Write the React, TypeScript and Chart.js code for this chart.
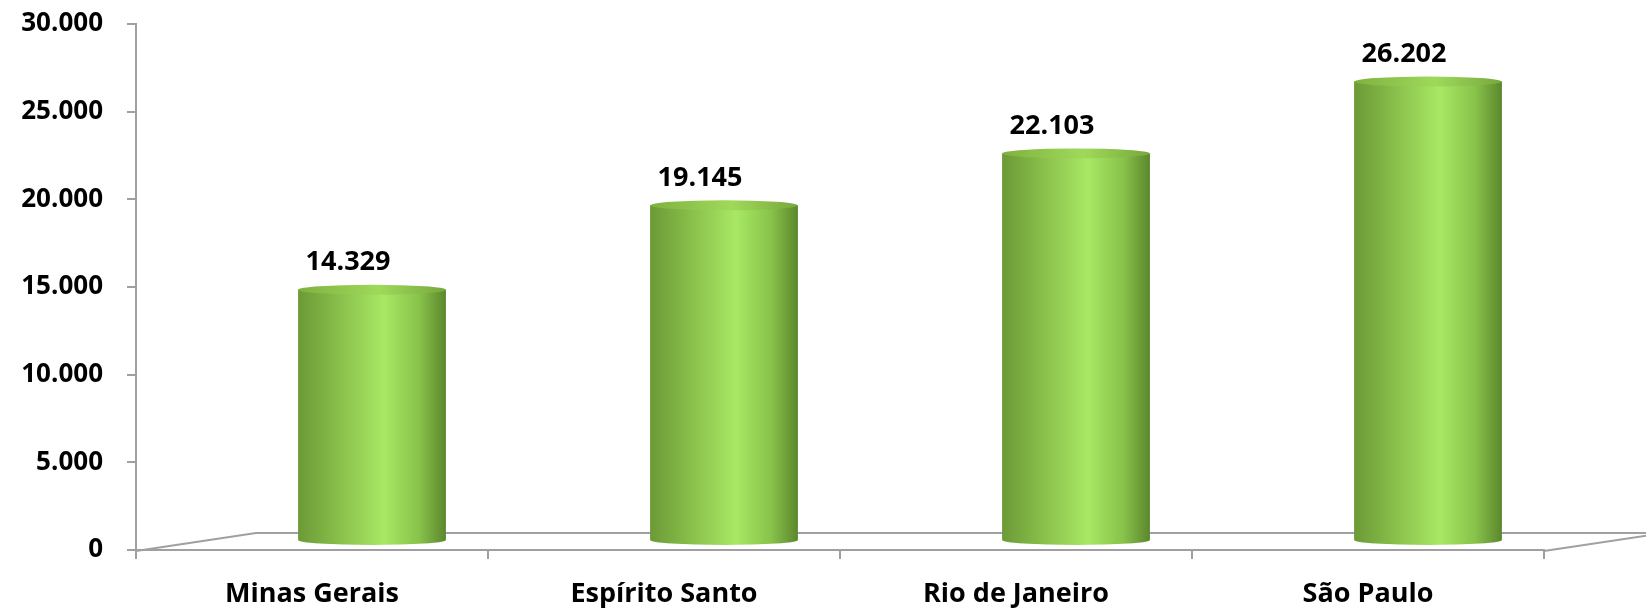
import React, { useEffect, useRef } from "react";
import { Chart, registerables } from "chart.js";

Chart.register(...registerables);

const categories = ["Minas Gerais", "Espírito Santo", "Rio de Janeiro", "São Paulo"];
const values = [14329, 19145, 22103, 26202];
const yTicks = [0, 5000, 10000, 15000, 20000, 25000, 30000];

const fmt = (v: number) => String(Math.round(v)).replace(/\B(?=(\d{3})+(?!\d))/g, ".");

const DEPTH_X = 120;
const DEPTH_Y = -18;
const FONT = "'Open Sans', Lato, sans-serif";

function cylGradient(ctx: CanvasRenderingContext2D, x0: number, x1: number) {
  const g = ctx.createLinearGradient(x0, 0, x1, 0);
  g.addColorStop(0, "#6c9a37");
  g.addColorStop(0.25, "#86bb48");
  g.addColorStop(0.58, "#a8e864");
  g.addColorStop(0.82, "#88c24a");
  g.addColorStop(1, "#5a872d");
  return g;
}

const cylinderPlugin = {
  id: "cylinder",
  beforeDatasetsDraw(chart: any) {
    const { ctx, scales } = chart;
    const xs = scales.x;
    const y0 = scales.y.getPixelForValue(0);
    const left = xs.left;
    const right = xs.right;
    ctx.save();
    ctx.strokeStyle = "#a0a0a0";
    ctx.lineWidth = 2;
    ctx.beginPath();
    ctx.moveTo(left, y0 + 1);
    ctx.lineTo(left + DEPTH_X, y0 + 1 + DEPTH_Y);
    ctx.lineTo(right + DEPTH_X + 40, y0 + 1 + DEPTH_Y);
    ctx.moveTo(right, y0 + 1);
    ctx.lineTo(right + DEPTH_X, y0 + 1 + DEPTH_Y);
    ctx.stroke();
    ctx.restore();
  },
  afterDatasetsDraw(chart: any) {
    const { ctx } = chart;
    const meta = chart.getDatasetMeta(0);
    const dx = DEPTH_X / 2;
    const dy = DEPTH_Y / 2;
    ctx.save();
    meta.data.forEach((bar: any, i: number) => {
      const w = bar.width;
      const cx = bar.x + dx;
      const x0 = cx - w / 2;
      const x1 = cx + w / 2;
      const top = bar.y + dy;
      const base = bar.base + dy;
      const ry = 5;
      ctx.fillStyle = cylGradient(ctx, x0, x1);
      ctx.beginPath();
      ctx.moveTo(x0, top);
      ctx.lineTo(x0, base);
      ctx.ellipse(cx, base, w / 2, ry, 0, Math.PI, 0, true);
      ctx.lineTo(x1, top);
      ctx.closePath();
      ctx.fill();
      const tg = ctx.createLinearGradient(x0, 0, x1, 0);
      tg.addColorStop(0, "#7fb13f");
      tg.addColorStop(0.55, "#9fd95a");
      tg.addColorStop(1, "#78a83c");
      ctx.fillStyle = tg;
      ctx.beginPath();
      ctx.ellipse(cx, top, w / 2, ry, 0, 0, Math.PI * 2);
      ctx.fill();
      ctx.fillStyle = "#000";
      ctx.font = `bold 27px ${FONT}`;
      ctx.textAlign = "center";
      ctx.textBaseline = "middle";
      ctx.fillText(fmt(values[i]), cx - 24, top - 27);
    });
    ctx.restore();
  },
};

export default function App() {
  const ref = useRef<HTMLCanvasElement>(null);
  useEffect(() => {
    document.body.style.margin = "0";
    const chart = new Chart(ref.current!, {
      type: "bar",
      data: {
        labels: categories,
        datasets: [
          {
            data: values,
            backgroundColor: "rgba(0,0,0,0)",
            borderWidth: 0,
            barPercentage: 0.84,
            categoryPercentage: 0.5,
          },
        ],
      },
      options: {
        animation: false,
        responsive: false,
        maintainAspectRatio: false,
        layout: { padding: { left: 0, right: 102, top: 24, bottom: 0 } },
        plugins: { legend: { display: false }, tooltip: { enabled: false } },
        scales: {
          x: {
            offset: true,
            grid: {
              offset: true,
              drawOnChartArea: false,
              color: "#a0a0a0",
              lineWidth: 2,
              tickLength: 9,
            },
            border: { color: "#a0a0a0", width: 2 },
            ticks: {
              color: "#000",
              font: { family: FONT, size: 27, weight: "bold" },
              padding: 19,
              maxRotation: 0,
              autoSkip: false,
            },
            afterFit: (s: any) => {
              s.height = 58;
              s.paddingLeft = 0;
              s.paddingRight = 0;
            },
          },
          y: {
            min: 0,
            max: 30000,
            afterBuildTicks: (s: any) => {
              s.ticks = yTicks.map((v) => ({ value: v }));
            },
            grid: {
              drawOnChartArea: false,
              color: "#a0a0a0",
              lineWidth: 2,
              tickLength: 9,
            },
            border: { color: "#a0a0a0", width: 2 },
            ticks: {
              color: "#000",
              font: { family: FONT, size: 26, weight: "bold" },
              padding: 24,
              callback: (v: any) => fmt(Number(v)),
            },
            afterFit: (s: any) => {
              s.width = 136;
              s.paddingTop = 0;
              s.paddingBottom = 0;
            },
          },
        },
      },
      plugins: [cylinderPlugin],
    });
    return () => chart.destroy();
  }, []);
  return (
    <div style={{ width: 1646, height: 608, background: "#fff" }}>
      <canvas ref={ref} width={1646} height={608} style={{ display: "block" }} />
    </div>
  );
}
